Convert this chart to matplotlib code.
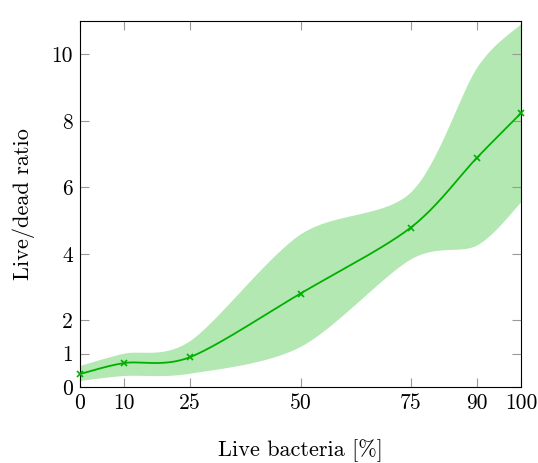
import numpy as np
import matplotlib
matplotlib.use("Agg")
import matplotlib.pyplot as plt

# data
live_pct = [0, 10, 25, 50, 75, 90, 100]
ratio_mean = [0.39, 0.72, 0.90, 2.81, 4.79, 6.89, 8.23]
ratio_upper = [0.63, 1.00, 1.38, 4.58, 5.84, 9.58, 10.90]
ratio_lower = [0.18, 0.33, 0.40, 1.20, 3.83, 4.25, 5.54]

xticks = [0, 10, 25, 50, 75, 90, 100]
yticks = [0, 1, 2, 4, 6, 8, 10]

line_color = "#00b000"
fill_color = "#b3e8b3"


def smooth(x, y, n=40, k=0.15):
    # cubic bezier through the points, like tikz "smooth"
    x = np.asarray(x, float)
    y = np.asarray(y, float)
    px, py = [], []
    for i in range(len(x) - 1):
        x0, y0 = x[i], y[i]
        x3, y3 = x[i + 1], y[i + 1]
        xa, ya = (x[i - 1], y[i - 1]) if i > 0 else (x0, y0)
        xb, yb = (x[i + 2], y[i + 2]) if i + 2 < len(x) else (x3, y3)
        x1, y1 = x0 + k * (x3 - xa), y0 + k * (y3 - ya)
        x2, y2 = x3 - k * (xb - x0), y3 - k * (yb - y0)
        t = np.linspace(0, 1, n)
        px.append((1-t)**3*x0 + 3*(1-t)**2*t*x1 + 3*(1-t)*t**2*x2 + t**3*x3)
        py.append((1-t)**3*y0 + 3*(1-t)**2*t*y1 + 3*(1-t)*t**2*y2 + t**3*y3)
    return np.concatenate(px), np.concatenate(py)


plt.rcParams['font.family'] = 'serif'
plt.rcParams['font.serif'] = ['cmr10']
plt.rcParams['mathtext.fontset'] = 'cm'
plt.rcParams['axes.formatter.use_mathtext'] = True

fig = plt.figure(figsize=(5.38, 4.63), dpi=100)
ax = fig.add_axes([80/538, 1 - 387/463, 441/538, 366/463])

ux, uy = smooth(live_pct, ratio_upper)
lx, ly = smooth(live_pct, ratio_lower)
ax.fill(np.concatenate([ux, lx[::-1]]), np.concatenate([uy, ly[::-1]]),
        color=fill_color, lw=0, zorder=1)

mx, my = smooth(live_pct, ratio_mean)
ax.plot(mx, my, color=line_color, lw=1.3, zorder=3)
ax.plot(live_pct, ratio_mean, ls='none', marker='x', ms=5, mew=1.2,
        color=line_color, zorder=4, clip_on=False)

ax.set_xlim(0, 100)
ax.set_ylim(0, 11)
ax.set_xticks(xticks)
ax.set_yticks(yticks)
ax.set_xticklabels([str(v) for v in xticks])
ax.set_yticklabels([str(v) for v in yticks])
ax.tick_params(direction='in', length=6.5, width=0.8, color='#999999',
               top=True, right=True, labelsize=15.5, pad=5)
for s in ax.spines.values():
    s.set_linewidth(0.8)

ax.set_xlabel('Live bacteria [%]', fontsize=16, labelpad=18.5)
ax.set_ylabel('Live/dead ratio', fontsize=16, labelpad=12)

fig.savefig('out.png', dpi=100)
